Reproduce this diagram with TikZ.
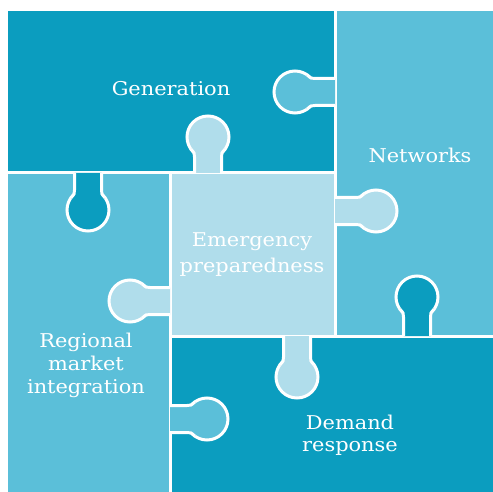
\documentclass[tikz,border=0pt]{standalone}
\usepackage{fontspec}
\setmainfont[FakeStretch=1.1]{DejaVu Serif}
\definecolor{pdark}{HTML}{0B9DBF}
\definecolor{pmed}{HTML}{5BBFD9}
\definecolor{plight}{HTML}{B0DDEB}
\tikzset{
  seam/.style={white, line width=3pt},
  knob/.style={draw=white, line width=3pt},
  label/.style={text=white, font=\fontsize{19}{23}\selectfont, inner sep=0pt, anchor=base},
}
% vertical tab: colour, x of neck centre, y of edge, y of circle centre
\newcommand\tabV[4]{%
  \pgfmathsetmacro\s{sign(#4-#3)}%
  \pgfmathsetmacro\ya{#4-20*\s}%
  \pgfmathsetmacro\yc{#4-16.1*\s}%
  \pgfmathsetmacro\yb{#4-12*\s}%
  \fill[#1, knob] (#2,#4) circle (21);
  \fill[#1] (#2-13.5,#3) -- (#2-13.5,\ya) .. controls (#2-13.5,\yc) .. (#2-17.2,\yb)
     -- (#2,#4) -- (#2+17.2,\yb) .. controls (#2+13.5,\yc) .. (#2+13.5,\ya) -- (#2+13.5,#3) -- cycle;
  \draw[seam] (#2-13.5,#3) -- (#2-13.5,\ya) .. controls (#2-13.5,\yc) .. (#2-17.2,\yb);
  \draw[seam] (#2+13.5,#3) -- (#2+13.5,\ya) .. controls (#2+13.5,\yc) .. (#2+17.2,\yb);
}
% horizontal tab: colour, y of neck centre, x of edge, x of circle centre
\newcommand\tabH[4]{%
  \pgfmathsetmacro\s{sign(#4-#3)}%
  \pgfmathsetmacro\xa{#4-20*\s}%
  \pgfmathsetmacro\xc{#4-16.1*\s}%
  \pgfmathsetmacro\xb{#4-12*\s}%
  \fill[#1, knob] (#4,#2) circle (21);
  \fill[#1] (#3,#2-13.5) -- (\xa,#2-13.5) .. controls (\xc,#2-13.5) .. (\xb,#2-17.2)
     -- (#4,#2) -- (\xb,#2+17.2) .. controls (\xc,#2+13.5) .. (\xa,#2+13.5) -- (#3,#2+13.5) -- cycle;
  \draw[seam] (#3,#2-13.5) -- (\xa,#2-13.5) .. controls (\xc,#2-13.5) .. (\xb,#2-17.2);
  \draw[seam] (#3,#2+13.5) -- (\xa,#2+13.5) .. controls (\xc,#2+13.5) .. (\xb,#2+17.2);
}
\begin{document}
\begin{tikzpicture}[x=1pt,y=-1pt]
\useasboundingbox (0,0) rectangle (493,492);
\fill[white] (0,0) rectangle (493,492);
% pieces
\fill[pdark]  (8,11) rectangle (335,173);    % Generation
\fill[pmed]   (335,11) rectangle (494,336);  % Networks
\fill[plight] (170,173) rectangle (335,336); % Emergency
\fill[pmed]   (8,173) rectangle (170,493);   % Regional
\fill[pdark]  (170,336) rectangle (494,493); % Demand
% seams
\draw[seam] (8,173) -- (335,173);
\draw[seam] (335,11) -- (335,336);
\draw[seam] (170,173) -- (170,493);
\draw[seam] (170,336) -- (494,336);
% tabs
\tabV{pdark}{88}{173}{210}
\tabV{plight}{208}{173}{137}
\tabH{pmed}{92}{335}{295}
\tabH{plight}{211}{335}{376}
\tabH{plight}{301}{170}{130}
\tabH{pmed}{419}{170}{207}
\tabV{pdark}{417}{336}{297}
\tabV{plight}{297}{336}{377}
% labels
\node[label] (gen) at (171,96) {Generation};
\node[label] (net) at (420,163) {Networks};
\node[label] (em1) at (252,247) {Emergency};
\node[label] (em2) at (252,272) {preparedness};
\node[label] (rg1) at (86,347) {Regional};
\node[label] (rg2) at (86,370) {market};
\node[label] (rg3) at (86,393) {integration};
\node[label] (dm1) at (350,429) {Demand};
\node[label] (dm2) at (350,451) {response};
\end{tikzpicture}
\end{document}
